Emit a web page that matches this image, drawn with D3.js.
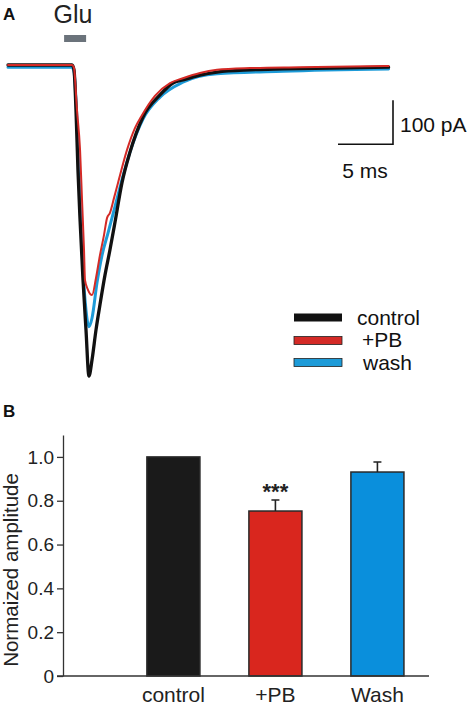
<!DOCTYPE html>
<html>
<head>
<meta charset="utf-8">
<script src="https://cdn.jsdelivr.net/npm/d3@7"></script>
<style>
  html, body { margin: 0; padding: 0; background: #fff; }
  svg { display: block; font-family: Arial, "Liberation Sans", Helvetica, sans-serif; }
</style>
</head>
<body>
<svg id="chart" width="472" height="708"></svg>
<script>
// ---------- Panel A: current traces (time in ms, current in pA) ----------
const controlT = [0, 2.9, 5.82, 6.0, 6.18, 6.36, 6.55, 6.82, 7.09, 7.36, 7.64, 8.0, 8.36, 8.82, 9.27, 9.73, 10.36, 11.09, 12.27, 13.82, 15.0, 15.9, 17.45, 19.0, 22.0, 25.0, 29.3, 34.6];
const controlI = [0, 0, 0, -11, -102, -239, -352, -489, -602, -707, -670, -602, -545, -477, -420, -357, -268, -198, -118, -68, -41, -34, -23, -16, -11, -9, -7, -5];

const pbT = [0, 2.9, 5.82, 6.0, 6.27, 6.55, 6.73, 6.91, 7.0, 7.27, 7.64, 8.0, 8.36, 8.73, 9.0, 9.27, 9.64, 10.0, 10.82, 11.55, 12.18, 13.36, 14.73, 15.9, 17.45, 19.0, 22.0, 26.5, 34.6];
const pbI = [0, 0, 0, -7, -102, -193, -307, -420, -489, -511, -523, -484, -432, -386, -348, -336, -302, -268, -193, -143, -114, -70, -41, -30, -18, -11, -7, -5, -2];

const washT = [0, 2.9, 5.82, 6.0, 6.27, 6.55, 6.82, 7.09, 7.36, 7.64, 8.09, 8.55, 9.09, 9.64, 10.36, 11.09, 12.27, 13.82, 15.9, 19.0, 25.0, 34.6];
const washI = [-5, -5, -5, -16, -125, -307, -466, -557, -595, -575, -495, -432, -382, -330, -261, -198, -123, -73, -39, -20, -14, -9];

const traceNames = ["control", "+PB", "wash"];
const traceColors = ["#111111", "#d42a26", "#1d9bd8"];

// ---------- Panel B: bar chart ----------
const categories = ["control", "+PB", "Wash"];
const means = [1.0, 0.753, 0.931];
const errors = [0, 0.05, 0.046];
const barColors = ["#1a1a1a", "#d9261e", "#0a8fdc"];
const yTicks = [0, 0.2, 0.4, 0.6, 0.8, 1.0];

const svg = d3.select("#chart");

// ===== Panel A =====
const gA = svg.append("g");
gA.append("text").attr("x", 3).attr("y", 20).attr("font-size", 17).attr("font-weight", "bold").attr("fill", "#111").text("A");
gA.append("text").attr("x", 73).attr("y", 23).attr("font-size", 25).attr("text-anchor", "middle").attr("fill", "#222").text("Glu");

const xA = d3.scaleLinear().domain([0, 35]).range([8, 393]);
const yA = d3.scaleLinear().domain([0, -100]).range([65, 109]);

// Glu application bar
gA.append("rect").attr("x", xA(5.1)).attr("y", 35).attr("width", xA(7.1) - xA(5.1)).attr("height", 7).attr("fill", "#6b737b");

const line = d3.line().x(d => xA(d[0])).y(d => yA(d[1])).curve(d3.curveMonotoneX);
const traces = [
  {T: washT, I: washI, color: traceColors[2], w: 3},
  {T: controlT, I: controlI, color: traceColors[0], w: 3.3},
  {T: pbT, I: pbI, color: traceColors[1], w: 2}
];
traces.forEach(tr => {
  const pts = tr.T.map((t, i) => [t, tr.I[i]]);
  gA.append("path").attr("d", line(pts)).attr("fill", "none")
    .attr("stroke", tr.color).attr("stroke-width", tr.w)
    .attr("stroke-linejoin", "round").attr("stroke-linecap", "round");
});

// scale bar
gA.append("path")
  .attr("d", `M${xA(30)},${yA(-180)}H${xA(35)}V${yA(-80)}`)
  .attr("fill", "none").attr("stroke", "#111").attr("stroke-width", 1.6);
gA.append("text").attr("x", 400).attr("y", 132).attr("font-size", 21).attr("fill", "#111").text("100 pA");
gA.append("text").attr("x", 365).attr("y", 178).attr("font-size", 21).attr("text-anchor", "middle").attr("fill", "#111").text("5 ms");

// legend
const legY = [317.5, 340.5, 362.5];
const legTextY = [325, 347, 370];
const legTextX = [357, 362, 363];
traceNames.forEach((n, i) => {
  gA.append("rect").attr("x", 294).attr("y", legY[i] - 4).attr("width", 48).attr("height", 8)
    .attr("fill", traceColors[i]).attr("stroke", "#222").attr("stroke-width", i === 0 ? 0 : 0.8);
  gA.append("text").attr("x", legTextX[i]).attr("y", legTextY[i]).attr("font-size", 21).attr("fill", "#111").text(n);
});

// ===== Panel B =====
const gB = svg.append("g");
gB.append("text").attr("x", 3).attr("y", 417).attr("font-size", 17).attr("font-weight", "bold").attr("fill", "#111").text("B");

const xB = d3.scaleBand().domain(categories).range([63, 429]).paddingInner(0.48).paddingOuter(0.534).align(0.77);
const yB = d3.scaleLinear().domain([0, 1.1]).range([676, 435]);

const yAxis = d3.axisLeft(yB).tickValues(yTicks).tickSize(6).tickSizeOuter(0).tickPadding(3)
  .tickFormat(d => d === 0 ? "0" : d3.format(".1f")(d));
const yg = gB.append("g").attr("transform", "translate(63,0)").call(yAxis);
yg.selectAll("path, line").attr("stroke", "#333").attr("stroke-width", 1.3);
yg.selectAll("text").attr("font-size", 19).attr("fill", "#222").attr("font-family", "Arial, 'Liberation Sans', sans-serif");

// bars
gB.selectAll("rect.bar").data(categories).enter().append("rect")
  .attr("class", "bar")
  .attr("x", d => xB(d)).attr("y", (d, i) => yB(means[i]))
  .attr("width", xB.bandwidth()).attr("height", (d, i) => yB(0) - yB(means[i]))
  .attr("fill", (d, i) => barColors[i]).attr("stroke", "#2a2a2a").attr("stroke-width", 1.5);

// error bars
categories.forEach((c, i) => {
  if (errors[i] <= 0) return;
  const cx = xB(c) + xB.bandwidth() / 2;
  gB.append("path")
    .attr("d", `M${cx},${yB(means[i])}V${yB(means[i] + errors[i])}M${cx - 4},${yB(means[i] + errors[i])}H${cx + 4}`)
    .attr("stroke", "#222").attr("stroke-width", 1.6).attr("fill", "none");
});

// significance
gB.append("text").attr("x", xB("+PB") + xB.bandwidth() / 2).attr("y", 499)
  .attr("text-anchor", "middle").attr("font-size", 22).attr("font-weight", "bold").attr("fill", "#222").text("***");

// x axis
gB.append("line").attr("x1", 57).attr("x2", 429).attr("y1", 676).attr("y2", 676).attr("stroke", "#333").attr("stroke-width", 1.3);
const xAxis = d3.axisBottom(xB).tickSize(0).tickPadding(11);
const xg = gB.append("g").attr("transform", "translate(0,676)").call(xAxis);
xg.select(".domain").remove();
xg.selectAll("text").attr("font-size", 21).attr("fill", "#222").attr("font-family", "Arial, 'Liberation Sans', sans-serif");

// y title
gB.append("text").attr("transform", "translate(18,570) rotate(-90)")
  .attr("text-anchor", "middle").attr("font-size", 20.5).attr("fill", "#222").text("Normaized amplitude");
</script>
</body>
</html>
